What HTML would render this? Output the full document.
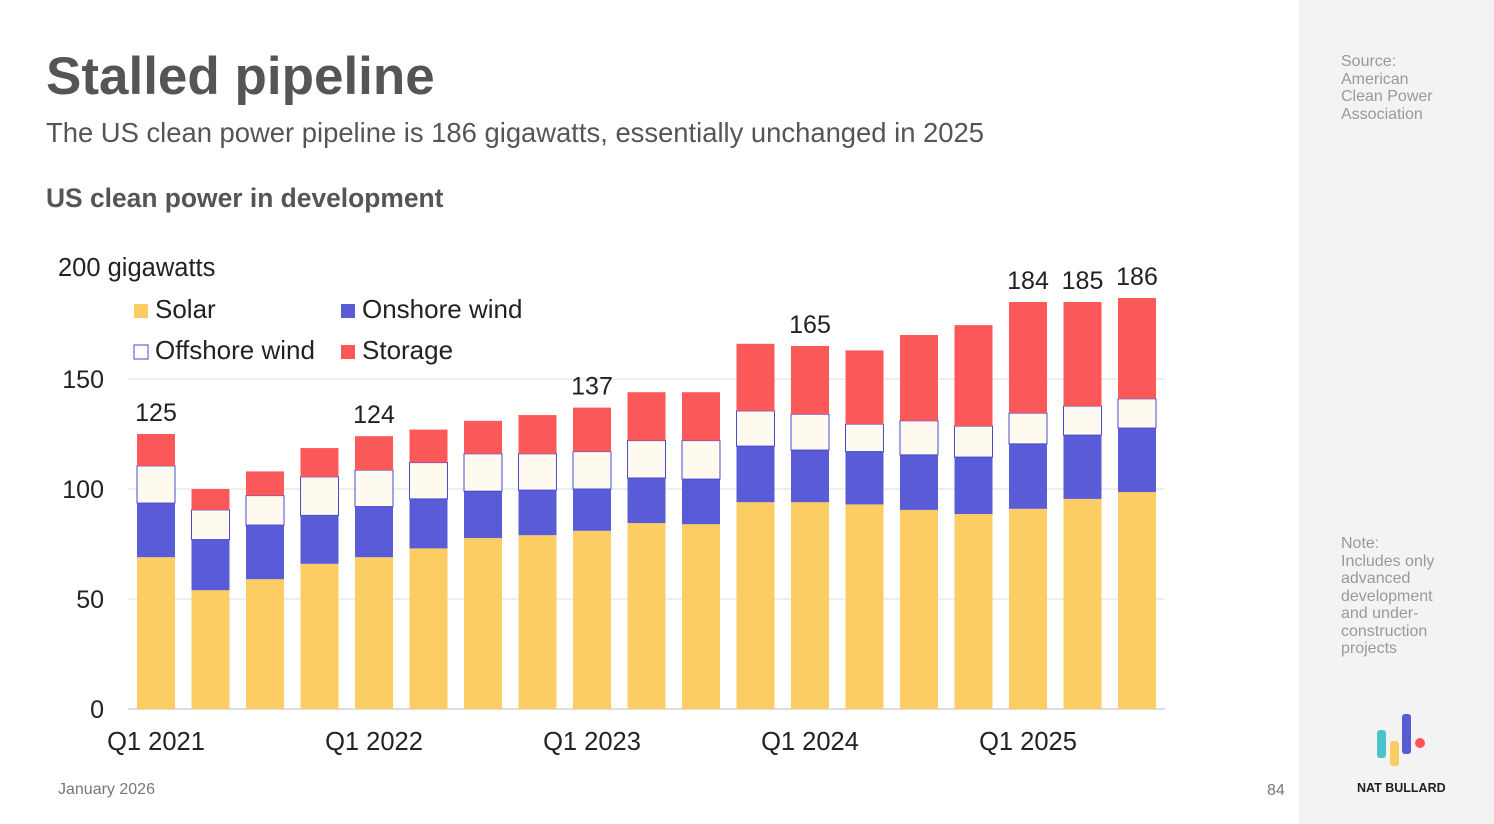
<!DOCTYPE html>
<html><head><meta charset="utf-8"><style>
body{margin:0;width:1494px;height:824px;background:#fff;font-family:"Liberation Sans",sans-serif;position:relative;overflow:hidden}
.a{position:absolute;white-space:nowrap}
</style></head><body>
<div class="a" style="left:1299px;top:0;width:195px;height:824px;background:#f3f3f3"></div>
<div class="a" style="left:46px;top:46px;font-size:53px;font-weight:bold;color:#555">Stalled pipeline</div>
<div class="a" style="left:46px;top:117px;font-size:27.4px;color:#555">The US clean power pipeline is 186 gigawatts, essentially unchanged in 2025</div>
<div class="a" style="left:46px;top:183px;font-size:26.4px;font-weight:bold;color:#555">US clean power in development</div>
<div class="a" style="left:1341px;top:53px;font-size:16px;line-height:17.5px;color:#999">Source:<br>American<br>Clean Power<br>Association</div>
<div class="a" style="left:1341px;top:535px;font-size:16px;line-height:17.5px;color:#999">Note:<br>Includes only<br>advanced<br>development<br>and under-<br>construction<br>projects</div>
<div class="a" style="left:58px;top:781px;font-size:16px;color:#777">January 2026</div>
<div class="a" style="left:1267px;top:782px;font-size:16px;color:#777">84</div>
<svg class="a" style="left:1370px;top:710px" width="60" height="60">
<rect x="7" y="20" width="9" height="28" rx="3" fill="#4dc2c8"/><rect x="20" y="31" width="9" height="25" rx="3" fill="#fbcd62"/><rect x="32" y="4" width="9" height="40" rx="3" fill="#5a5bd4"/><circle cx="50" cy="33" r="5" fill="#f55"/></svg>
<div class="a" style="left:1357px;top:781px;font-size:12.5px;font-weight:bold;color:#222">NAT BULLARD</div>
<svg id="c" class="a" style="left:0;top:0" width="1300" height="824"></svg>
<script>
const solar=[69,54,59,66,69,73,77.7,79,81,84.5,84,94,94,93,90.5,88.6,91,95.5,98.6];
const onshore=[24.6,23,24.6,22,23,22.5,21.3,20.5,19,20.5,20.5,25.5,23.7,24,25,25.9,29.5,29,29.1];
const offshore=[16.9,13.5,13.4,17.5,16.6,16.5,17,16.5,17,17,17.5,16,16.3,12.5,15.5,14.1,14,13.2,13.3];
const storage=[14.5,9.5,11,13.1,15.4,15,15,17.6,20,22,22,30.5,31,33.5,39,45.9,50.5,47.3,45.8];
const labels=["125","","","","124","","","","137","","","","165","","","","184","185","186"];
const xTicks=[[0,"Q1 2021"],[4,"Q1 2022"],[8,"Q1 2023"],[12,"Q1 2024"],[16,"Q1 2025"]];
const yTicks=[0,50,100,150];
const svg=document.getElementById('c');const NS='http://www.w3.org/2000/svg';
const y=v=>709-v*2.2, x=i=>156+i*54.5;
function mk(t,a,name){const e=document.createElementNS(NS,t);for(const k in a)e.setAttribute(k,a[k]);


svg.appendChild(e);return e;}
yTicks.forEach(v=>{if(v>0)mk('line',{x1:128,x2:1165,y1:y(v),y2:y(v),stroke:'#ddd'},'gridline');
const t=mk('text',{x:104,y:y(v)+9,'text-anchor':'end','font-size':25,fill:'#222'},'y-tick-label');t.textContent=v;});
mk('line',{x1:128,x2:1165,y1:709,y2:709,stroke:'#bbb'},'x-axis');
const yt=mk('text',{x:58,y:276,'font-size':25.5,fill:'#222'},'y-axis-title');yt.textContent='200 gigawatts';
xTicks.forEach(([i,l])=>{const t=mk('text',{x:x(i),y:750,'text-anchor':'middle','font-size':25.5,fill:'#222'},'x-tick-label');t.textContent=l;});
const series=[[solar,'#fccd62','none'],[onshore,'#5a5bd6','none'],[offshore,'#fffaf0','#4a4ad0'],[storage,'#fb5959','none']];
solar.forEach((_,i)=>{let acc=0;series.forEach(([arr,f,s])=>{const v=arr[i];
mk('rect',{x:x(i)-19,y:y(acc+v),width:38,height:v*2.2,fill:f,stroke:s,'stroke-width':1},'bar-segment');acc+=v;});
if(labels[i]){const t=mk('text',{x:x(i),y:y(acc)-13,'text-anchor':'middle','font-size':25,fill:'#222'},'bar-total-label');t.textContent=labels[i];}});
const leg=[['Solar','#fccd62',133,318],['Onshore wind','#5a5bd6',340,318],['Offshore wind','#fff',133,359],['Storage','#fb5959',340,359]];
leg.forEach(([n,c,lx,ly])=>{mk('rect',{x:lx+1,y:ly-14,width:14,height:14,fill:c,stroke:n=='Offshore wind'?'#4a4ad0':'none'},'legend-swatch');
const t=mk('text',{x:lx+22,y:ly,'font-size':26,fill:'#222'},'legend-entry');t.textContent=n;});
</script>
</body></html>
